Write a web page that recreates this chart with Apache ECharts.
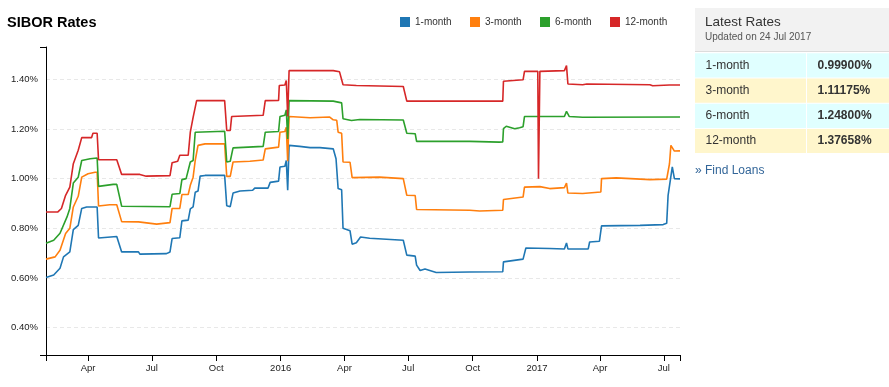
<!DOCTYPE html>
<html>
<head>
<meta charset="utf-8">
<script src="https://cdn.jsdelivr.net/npm/echarts@6/dist/echarts.min.js"></script>
<style>
html,body{margin:0;padding:0;background:#fff;}
#chart{width:889px;height:387px;}
</style>
</head>
<body>
<div id="chart"></div>
<script>
// ---- data (values in %) ----
const seriesNames = ['1-month', '3-month', '6-month', '12-month'];
const seriesColors = ['#1f77b4', '#ff7f0e', '#2ca02c', '#d62728'];

const oneMonth = [['2015-01-31',0.602],['2015-02-11',0.612],['2015-02-20',0.639],['2015-02-25',0.685],['2015-03-06',0.705],['2015-03-11',0.795],['2015-03-18',0.812],['2015-03-23',0.880],['2015-03-30',0.886],['2015-04-14',0.886],['2015-04-16',0.761],['2015-05-12',0.767],['2015-05-19',0.705],['2015-06-12',0.705],['2015-06-14',0.696],['2015-07-22',0.698],['2015-07-27',0.705],['2015-07-30',0.759],['2015-08-10',0.762],['2015-08-13',0.830],['2015-08-22',0.833],['2015-08-25',0.878],['2015-08-29',0.886],['2015-09-01',0.945],['2015-09-05',0.950],['2015-09-08',1.010],['2015-09-15',1.013],['2015-10-13',1.013],['2015-10-16',0.891],['2015-10-21',0.887],['2015-10-25',0.942],['2015-11-04',0.950],['2015-11-22',0.953],['2015-11-25',0.962],['2015-12-14',0.962],['2015-12-17',0.985],['2015-12-29',0.990],['2015-12-31',1.047],['2016-01-07',1.050],['2016-01-09',1.073],['2016-01-11',0.953],['2016-01-13',1.134],['2016-01-28',1.130],['2016-02-12',1.125],['2016-02-26',1.125],['2016-03-16',1.120],['2016-03-20',1.080],['2016-03-23',0.960],['2016-03-28',0.955],['2016-03-30',0.800],['2016-04-09',0.790],['2016-04-12',0.736],['2016-04-18',0.742],['2016-04-24',0.765],['2016-05-07',0.760],['2016-06-24',0.752],['2016-06-29',0.692],['2016-07-11',0.688],['2016-07-13',0.652],['2016-07-18',0.630],['2016-07-25',0.636],['2016-08-10',0.622],['2016-09-27',0.624],['2016-11-13',0.625],['2016-11-14',0.665],['2016-12-12',0.676],['2016-12-16',0.721],['2017-01-19',0.719],['2017-02-09',0.717],['2017-02-12',0.741],['2017-02-14',0.717],['2017-03-15',0.717],['2017-03-17',0.745],['2017-03-31',0.748],['2017-04-03',0.810],['2017-05-28',0.812],['2017-06-30',0.815],['2017-07-05',0.820],['2017-07-07',0.933],['2017-07-09',0.940],['2017-07-13',1.047],['2017-07-16',1.000],['2017-07-24',0.999]];

const threeMonth = [['2015-01-31',0.676],['2015-02-13',0.685],['2015-02-20',0.712],['2015-02-28',0.779],['2015-03-06',0.800],['2015-03-11',0.886],['2015-03-18',0.929],['2015-03-23',1.006],['2015-04-01',1.020],['2015-04-11',1.026],['2015-04-14',1.026],['2015-04-16',0.890],['2015-05-02',0.895],['2015-05-12',0.895],['2015-05-19',0.827],['2015-06-12',0.826],['2015-06-14',0.819],['2015-07-08',0.817],['2015-07-27',0.823],['2015-07-30',0.880],['2015-08-10',0.880],['2015-08-13',0.936],['2015-08-22',0.936],['2015-08-25',0.973],['2015-08-29',1.006],['2015-09-01',1.073],['2015-09-05',1.134],['2015-09-15',1.140],['2015-10-13',1.140],['2015-10-16',1.009],['2015-10-21',1.009],['2015-10-25',1.067],['2015-11-18',1.070],['2015-12-07',1.075],['2015-12-10',1.120],['2015-12-29',1.127],['2015-12-31',1.187],['2016-01-07',1.190],['2016-01-09',1.207],['2016-01-11',1.070],['2016-01-13',1.250],['2016-02-12',1.245],['2016-03-11',1.248],['2016-03-13',1.255],['2016-03-16',1.237],['2016-03-21',1.235],['2016-03-23',1.187],['2016-03-28',1.183],['2016-03-30',1.067],['2016-04-09',1.066],['2016-04-12',1.004],['2016-05-21',1.006],['2016-06-24',1.000],['2016-06-29',0.933],['2016-07-11',0.932],['2016-07-13',0.876],['2016-09-27',0.873],['2016-10-11',0.870],['2016-11-13',0.873],['2016-11-14',0.916],['2016-12-12',0.926],['2016-12-14',0.966],['2017-01-05',0.968],['2017-01-19',0.960],['2017-02-09',0.964],['2017-02-12',0.982],['2017-02-14',0.942],['2017-03-07',0.940],['2017-04-02',0.946],['2017-04-03',1.000],['2017-04-24',1.003],['2017-06-11',0.996],['2017-07-05',0.998],['2017-07-09',1.060],['2017-07-11',1.134],['2017-07-16',1.111],['2017-07-24',1.112]];

const sixMonth = [['2015-01-31',0.740],['2015-02-11',0.752],['2015-02-20',0.780],['2015-03-02',0.846],['2015-03-06',0.880],['2015-03-11',0.982],['2015-03-18',1.006],['2015-03-23',1.073],['2015-04-04',1.080],['2015-04-14',1.083],['2015-04-16',0.969],['2015-05-07',0.977],['2015-05-12',0.977],['2015-05-19',0.889],['2015-07-27',0.887],['2015-07-30',0.937],['2015-08-10',0.940],['2015-08-13',0.996],['2015-08-19',1.000],['2015-08-25',1.067],['2015-08-29',1.073],['2015-09-01',1.187],['2015-10-13',1.191],['2015-10-16',1.067],['2015-10-21',1.070],['2015-10-25',1.124],['2015-12-07',1.130],['2015-12-10',1.187],['2015-12-29',1.190],['2015-12-31',1.250],['2016-01-07',1.255],['2016-01-09',1.277],['2016-01-11',1.160],['2016-01-13',1.314],['2016-03-16',1.312],['2016-03-28',1.305],['2016-03-30',1.241],['2016-04-01',1.245],['2016-04-11',1.234],['2016-04-23',1.238],['2016-06-24',1.236],['2016-06-29',1.183],['2016-07-11',1.181],['2016-07-13',1.150],['2016-09-27',1.150],['2016-11-08',1.147],['2016-11-13',1.148],['2016-11-14',1.201],['2016-11-18',1.211],['2016-11-30',1.201],['2016-12-07',1.205],['2016-12-12',1.209],['2016-12-14',1.250],['2017-02-09',1.250],['2017-02-12',1.271],['2017-02-16',1.250],['2017-03-07',1.247],['2017-07-24',1.248]];

const twelveMonth = [['2015-01-31',0.866],['2015-02-17',0.866],['2015-02-22',0.880],['2015-02-28',0.933],['2015-03-06',0.966],['2015-03-11',1.060],['2015-03-18',1.114],['2015-03-23',1.165],['2015-04-06',1.165],['2015-04-08',1.183],['2015-04-14',1.183],['2015-04-16',1.076],['2015-05-12',1.076],['2015-05-19',1.017],['2015-06-14',1.017],['2015-06-23',1.010],['2015-07-27',1.012],['2015-07-30',1.064],['2015-08-07',1.070],['2015-08-10',1.094],['2015-08-22',1.094],['2015-08-25',1.187],['2015-08-29',1.247],['2015-09-03',1.314],['2015-10-13',1.314],['2015-10-16',1.194],['2015-10-21',1.194],['2015-10-23',1.250],['2015-12-07',1.255],['2015-12-10',1.314],['2015-12-29',1.315],['2015-12-30',1.375],['2016-01-07',1.377],['2016-01-09',1.395],['2016-01-11',1.250],['2016-01-13',1.435],['2016-03-16',1.435],['2016-03-25',1.430],['2016-03-30',1.378],['2016-04-18',1.375],['2016-06-24',1.371],['2016-06-29',1.312],['2016-11-13',1.312],['2016-11-14',1.392],['2016-12-12',1.398],['2016-12-14',1.432],['2017-01-02',1.432],['2017-01-03',1.000],['2017-01-05',1.432],['2017-02-09',1.435],['2017-02-12',1.455],['2017-02-14',1.381],['2017-03-07',1.378],['2017-03-13',1.381],['2017-06-11',1.378],['2017-06-15',1.374],['2017-07-09',1.377],['2017-07-24',1.377]];

const xDomain = ['2015-01-31', '2017-07-24'];
const xTickDates = ['2015-04-01','2015-07-01','2015-10-01','2016-01-01','2016-04-01','2016-07-01','2016-10-01','2017-01-01','2017-04-01','2017-07-01'];
const monthNames = ['Jan','Feb','Mar','Apr','May','Jun','Jul','Aug','Sep','Oct','Nov','Dec'];
const yDomain = [0.29, 1.53];
const yTickValues = [0.4, 0.6, 0.8, 1.0, 1.2, 1.4];

const panelTitle = 'Latest Rates';
const panelSubtitle = 'Updated on 24 Jul 2017';
const latestLabels = ['1-month', '3-month', '6-month', '12-month'];
const latestValues = ['0.99900%', '1.11175%', '1.24800%', '1.37658%'];
const linkText = '\u00bb Find Loans';

// ---- helpers ----
function ts(s) { const p = s.split('-').map(Number); return Date.UTC(p[0], p[1] - 1, p[2]); }
function toSeriesData(arr) { return arr.map(d => [ts(d[0]), d[1]]); }

const seriesData = [oneMonth, threeMonth, sixMonth, twelveMonth];
const xMin = ts(xDomain[0]), xMax = ts(xDomain[1]);
const xTicks = xTickDates.map(ts);

const chart = echarts.init(document.getElementById('chart'), null, { renderer: 'canvas' });

const FONT = '"Liberation Sans", Arial, sans-serif';

const legends = seriesNames.map((n, i) => ({
  data: [n], left: 400 + 70 * i, top: 17, padding: 0,
  itemWidth: 10, itemHeight: 10, icon: 'rect', itemGap: 0,
  textStyle: { fontSize: 10, color: '#333', fontFamily: FONT },
  selectedMode: false
}));

// right panel graphic
const panel = [];
const PX = 695, PW = 194, COLX = 806;
panel.push({ type: 'rect', shape: { x: PX, y: 8, width: PW, height: 44 }, style: { fill: '#f2f2f2' }, silent: true });
panel.push({ type: 'rect', shape: { x: PX, y: 51, width: PW, height: 1 }, style: { fill: '#dcdcdc' }, silent: true });
panel.push({ type: 'text', x: 705, y: 22, style: { text: panelTitle, fontSize: 13.5, fontFamily: FONT, fill: '#333', verticalAlign: 'middle' }, silent: true });
panel.push({ type: 'text', x: 705, y: 37.5, style: { text: panelSubtitle, fontSize: 10, fontFamily: FONT, fill: '#555', verticalAlign: 'middle' }, silent: true });
const rowFills = ['#e0ffff', '#fff6cc', '#e0ffff', '#fff6cc'];
latestLabels.forEach((lab, i) => {
  const y0 = 53.3 + 25.2 * i;
  panel.push({ type: 'rect', shape: { x: PX, y: y0, width: COLX - PX, height: 24.2 }, style: { fill: rowFills[i] }, silent: true });
  panel.push({ type: 'rect', shape: { x: COLX + 1, y: y0, width: 889 - COLX - 1, height: 24.2 }, style: { fill: rowFills[i] }, silent: true });
  panel.push({ type: 'text', x: 705.5, y: y0 + 12.2, style: { text: lab, fontSize: 12, fontFamily: FONT, fill: '#333', verticalAlign: 'middle' }, silent: true });
  panel.push({ type: 'text', x: 817.5, y: y0 + 12.2, style: { text: latestValues[i], fontSize: 12, fontWeight: 'bold', fontFamily: FONT, fill: '#333', verticalAlign: 'middle' }, silent: true });
});
panel.push({ type: 'text', x: 695, y: 171, style: { text: linkText, fontSize: 12, fontFamily: FONT, fill: '#336699', verticalAlign: 'middle' }, silent: true });

const option = {
  animation: false,
  backgroundColor: '#fff',
  title: {
    text: 'SIBOR Rates', left: 7, top: 15, padding: 0,
    textStyle: { fontSize: 14.5, fontWeight: 'bold', color: '#000', fontFamily: FONT }
  },
  legend: legends,
  grid: { left: 46, right: 209, top: 47, bottom: 32, containLabel: false },
  xAxis: {
    type: 'value', min: xMin, max: xMax, scale: true,
    axisLine: { show: true, lineStyle: { color: '#000', width: 1 } },
    axisTick: { show: true, length: 6, inside: false, lineStyle: { color: '#000' }, customValues: [xMin].concat(xTicks, [xMax]) },
    axisLabel: {
      show: true, customValues: xTicks, margin: 8, fontSize: 9.5, color: '#222', fontFamily: FONT,
      hideOverlap: false,
      formatter: function (v) { const d = new Date(v); return d.getUTCMonth() === 0 ? String(d.getUTCFullYear()) : monthNames[d.getUTCMonth()]; }
    },
    splitLine: { show: false }
  },
  yAxis: [{
    // grid-line axis (draws only the dashed horizontal lines)
    type: 'value', min: yDomain[0], max: yDomain[1], splitNumber: 6, position: 'left', z: 0,
    axisLine: { show: false }, axisTick: { show: false }, axisLabel: { show: false },
    splitLine: { show: true, showMinLine: false, showMaxLine: false, lineStyle: { color: '#e8e8e8', type: [4, 3], width: 1 } }
  }, {
    type: 'value', min: yDomain[0], max: yDomain[1], position: 'left', offset: 0,
    axisLine: { show: true, onZero: false, lineStyle: { color: '#000', width: 1 } },
    axisTick: { show: true, length: 6, inside: false, lineStyle: { color: '#000' }, customValues: yDomain },
    axisLabel: {
      show: true, customValues: yTickValues, margin: 8, fontSize: 9.5, color: '#222', fontFamily: FONT,
      formatter: function (v) { return v.toFixed(2) + '%'; }
    },
    splitLine: { show: false }
  }],
  series: seriesNames.map((n, i) => ({
    name: n, type: 'line', data: toSeriesData(seriesData[i]), yAxisIndex: 1,
    showSymbol: false, symbol: 'none', smooth: false,
    lineStyle: { width: 1.6, color: seriesColors[i] },
    itemStyle: { color: seriesColors[i] },
    emphasis: { disabled: true }
  })),
  graphic: panel
};
chart.setOption(option);
</script>
</body>
</html>
